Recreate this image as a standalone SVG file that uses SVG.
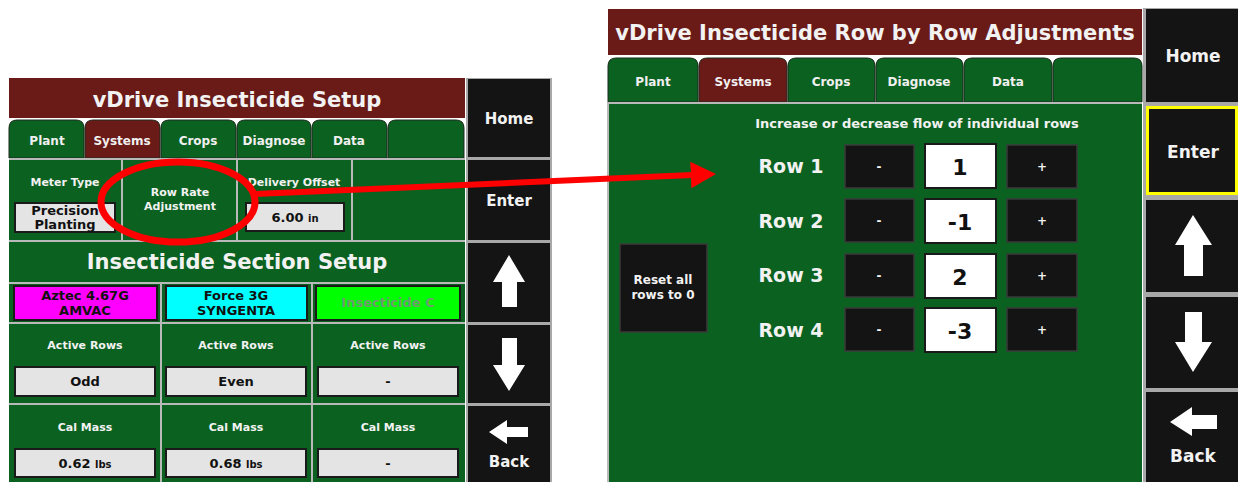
<svg xmlns="http://www.w3.org/2000/svg" width="1238" height="482" viewBox="0 0 1238 482">
<style>
text{font-family:"DejaVu Sans","Liberation Sans",sans-serif;font-weight:bold;text-anchor:middle}
.title{fill:#6a1a17}
.green{fill:#0b6120}
.tab{fill:#0b6120;stroke:#1c2a1c;stroke-width:1}
.tabsel{fill:#6a1a17;stroke:#1c2a1c;stroke-width:1}
.tt{fill:#f0f0f0;font-size:12px}
.wt{fill:#f2f2f2}
.btn{fill:#141414}
.box{fill:#e4e4e4;stroke:#1a1a1a;stroke-width:2}
.bt{fill:#111;font-size:13px}
.kb{fill:#141414;stroke:#3a3a3a;stroke-width:1.5}
.vb{fill:#fff;stroke:#1a1a1a;stroke-width:2}
.arr{fill:#fff}
.red{stroke:#ff0000;fill:none}
</style>
<defs>
<marker id="ah" markerWidth="4.2" markerHeight="4.4" refX="0.2" refY="2.2" orient="auto" markerUnits="strokeWidth">
<path d="M0,0 L4.2,2.2 L0,4.4 Z" fill="#ff0000"/>
</marker>
</defs>
<rect width="1238" height="482" fill="#fff"/>

<!-- LEFT SCREEN -->
<g id="left-title">
<rect class="title" x="9" y="78" width="456" height="40"/>
<text class="wt" x="237" y="107" font-size="21">vDrive Insecticide Setup</text>
</g>
<g id="left-tabs">
<path class="tab" d="M9,158V128Q9,120 17,120H76Q84,120 84,128V158Z"/>
<path class="tabsel" d="M85,158V128Q85,120 93,120H152Q160,120 160,128V158Z"/>
<path class="tab" d="M161,158V128Q161,120 169,120H228Q236,120 236,128V158Z"/>
<path class="tab" d="M237,158V128Q237,120 245,120H303Q311,120 311,128V158Z"/>
<path class="tab" d="M312,158V128Q312,120 320,120H379Q387,120 387,128V158Z"/>
<path class="tab" d="M388,158V128Q388,120 396,120H456Q464,120 464,128V158Z"/>
<text class="tt" x="47" y="145">Plant</text>
<text class="tt" x="122" y="145">Systems</text>
<text class="tt" x="198" y="145">Crops</text>
<text class="tt" x="274" y="145">Diagnose</text>
<text class="tt" x="349" y="145">Data</text>
</g>
<rect x="9" y="158" width="456" height="324" fill="#b9b9b9"/>
<g id="meter-type">
<rect class="green" x="9" y="160" width="112" height="80"/>
<text class="wt" x="65" y="186" font-size="11">Meter Type</text>
<rect class="box" x="15" y="203" width="100" height="29"/>
<text class="bt" x="65" y="215">Precision</text>
<text class="bt" x="65" y="229">Planting</text>
</g>
<g id="row-rate">
<rect class="green" x="123" y="160" width="113" height="80"/>
<text class="wt" x="180" y="196" font-size="11">Row Rate</text>
<text class="wt" x="180" y="210" font-size="11">Adjustment</text>
</g>
<g id="delivery-offset">
<rect class="green" x="238" y="160" width="113" height="80"/>
<text class="wt" x="294" y="186" font-size="11">Delivery Offset</text>
<rect class="box" x="246" y="203" width="98" height="28"/>
<text class="bt" x="295" y="222" font-size="12">6.00 <tspan font-size="10">in</tspan></text>
</g>
<g id="blank-cell"><rect class="green" x="353" y="160" width="112" height="80"/></g>
<g id="section-header">
<rect class="green" x="9" y="242" width="456" height="40"/>
<text class="wt" x="237" y="269" font-size="21">Insecticide Section Setup</text>
</g>
<g id="product-a">
<rect class="green" x="9" y="284" width="151" height="38"/>
<rect x="14" y="286" width="143" height="34" fill="#ff00ff" stroke="#1a1a1a" stroke-width="2"/>
<text class="bt" x="85" y="300">Aztec 4.67G</text>
<text class="bt" x="85" y="315">AMVAC</text>
</g>
<g id="product-b">
<rect class="green" x="162" y="284" width="149" height="38"/>
<rect x="166" y="286" width="141" height="34" fill="#00ffff" stroke="#1a1a1a" stroke-width="2"/>
<text class="bt" x="236" y="300">Force 3G</text>
<text class="bt" x="236" y="315">SYNGENTA</text>
</g>
<g id="product-c">
<rect class="green" x="313" y="284" width="152" height="38"/>
<rect x="316" y="286" width="144" height="34" fill="#00ff00" stroke="#1a1a1a" stroke-width="2"/>
<text x="388" y="307" font-size="13" fill="#6f9a6f">Insecticide C</text>
</g>
<g id="active-rows">
<rect class="green" x="9" y="324" width="151" height="79"/>
<rect class="green" x="162" y="324" width="149" height="79"/>
<rect class="green" x="313" y="324" width="152" height="79"/>
<text class="wt" x="85" y="349" font-size="11">Active Rows</text>
<text class="wt" x="236" y="349" font-size="11">Active Rows</text>
<text class="wt" x="388" y="349" font-size="11">Active Rows</text>
<rect class="box" x="15" y="367" width="140" height="29"/>
<rect class="box" x="166" y="367" width="140" height="29"/>
<rect class="box" x="318" y="367" width="140" height="29"/>
<text class="bt" x="85" y="386">Odd</text>
<text class="bt" x="236" y="386">Even</text>
<text class="bt" x="388" y="386">-</text>
</g>
<g id="cal-mass">
<rect class="green" x="9" y="405" width="151" height="77"/>
<rect class="green" x="162" y="405" width="149" height="77"/>
<rect class="green" x="313" y="405" width="152" height="77"/>
<text class="wt" x="85" y="431" font-size="11">Cal Mass</text>
<text class="wt" x="236" y="431" font-size="11">Cal Mass</text>
<text class="wt" x="388" y="431" font-size="11">Cal Mass</text>
<rect class="box" x="15" y="449" width="140" height="28"/>
<rect class="box" x="166" y="449" width="140" height="28"/>
<rect class="box" x="318" y="449" width="140" height="28"/>
<text class="bt" x="85" y="468" font-size="12">0.62 <tspan font-size="10">lbs</tspan></text>
<text class="bt" x="236" y="468" font-size="12">0.68 <tspan font-size="10">lbs</tspan></text>
<text class="bt" x="388" y="468">-</text>
</g>
<rect x="466" y="78" width="86" height="404" fill="#a8a8a8"/>
<g id="left-home">
<rect class="btn" x="468" y="79" width="82" height="78"/>
<text class="wt" x="509" y="124" font-size="15">Home</text>
</g>
<g id="left-enter">
<rect class="btn" x="468" y="160" width="82" height="80"/>
<text class="wt" x="509" y="206" font-size="15">Enter</text>
</g>
<g id="left-up">
<rect class="btn" x="468" y="243" width="82" height="79"/>
<path class="arr" d="M509,255L525,282H517V307H502V282H493Z"/>
</g>
<g id="left-down">
<rect class="btn" x="468" y="325" width="82" height="78"/>
<path class="arr" d="M502,338H517V365H525L509,391L493,365H502Z"/>
</g>
<g id="left-back">
<rect class="btn" x="468" y="406" width="82" height="76"/>
<path class="arr" d="M489,432L507,420V427H528V437H507V444Z"/>
<text class="wt" x="509" y="467" font-size="15">Back</text>
</g>

<!-- RIGHT SCREEN -->
<g id="right-title">
<rect class="title" x="608" y="9" width="534" height="46"/>
<text class="wt" x="875" y="40" font-size="21">vDrive Insecticide Row by Row Adjustments</text>
</g>
<g id="right-tabs">
<path class="tab" d="M608,102V66Q608,58 616,58H690Q698,58 698,66V102Z"/>
<path class="tabsel" d="M699,102V66Q699,58 707,58H779Q787,58 787,66V102Z"/>
<path class="tab" d="M788,102V66Q788,58 796,58H867Q875,58 875,66V102Z"/>
<path class="tab" d="M876,102V66Q876,58 884,58H955Q963,58 963,66V102Z"/>
<path class="tab" d="M964,102V66Q964,58 972,58H1044Q1052,58 1052,66V102Z"/>
<path class="tab" d="M1053,102V66Q1053,58 1061,58H1134Q1142,58 1142,66V102Z"/>
<text class="tt" x="653" y="86" font-size="13">Plant</text>
<text class="tt" x="743" y="86" font-size="13">Systems</text>
<text class="tt" x="831" y="86" font-size="13">Crops</text>
<text class="tt" x="919" y="86" font-size="13">Diagnose</text>
<text class="tt" x="1008" y="86" font-size="13">Data</text>
</g>
<rect x="607" y="102" width="535" height="380" fill="#b9b9b9"/>
<g id="row-panel">
<rect class="green" x="609" y="104" width="533" height="378"/>
<text class="wt" x="917" y="128" font-size="13">Increase or decrease flow of individual rows</text>
</g>
<g id="reset">
<rect class="kb" x="620" y="244" width="87" height="88"/>
<text class="wt" x="663" y="284" font-size="12">Reset all</text>
<text class="wt" x="663" y="299" font-size="12">rows to 0</text>
</g>
<g id="row1">
<text class="wt" x="791" y="173" font-size="19">Row  1</text>
<rect class="kb" x="845" y="145" width="69" height="43"/>
<text class="wt" x="879" y="171" font-size="12">-</text>
<rect class="vb" x="925" y="144" width="71" height="44"/>
<text x="960" y="175" font-size="22" fill="#111">1</text>
<rect class="kb" x="1007" y="145" width="70" height="43"/>
<text class="wt" x="1042" y="171" font-size="12">+</text>
</g>
<g id="row2">
<text class="wt" x="791" y="228" font-size="19">Row  2</text>
<rect class="kb" x="845" y="199" width="69" height="43"/>
<text class="wt" x="879" y="225" font-size="12">-</text>
<rect class="vb" x="925" y="199" width="71" height="44"/>
<text x="960" y="230" font-size="22" fill="#111">-1</text>
<rect class="kb" x="1007" y="199" width="70" height="43"/>
<text class="wt" x="1042" y="225" font-size="12">+</text>
</g>
<g id="row3">
<text class="wt" x="791" y="282" font-size="19">Row  3</text>
<rect class="kb" x="845" y="254" width="69" height="43"/>
<text class="wt" x="879" y="280" font-size="12">-</text>
<rect class="vb" x="925" y="254" width="71" height="44"/>
<text x="960" y="285" font-size="22" fill="#111">2</text>
<rect class="kb" x="1007" y="254" width="70" height="43"/>
<text class="wt" x="1042" y="280" font-size="12">+</text>
</g>
<g id="row4">
<text class="wt" x="791" y="337" font-size="19">Row  4</text>
<rect class="kb" x="845" y="308" width="69" height="43"/>
<text class="wt" x="879" y="334" font-size="12">-</text>
<rect class="vb" x="925" y="308" width="71" height="44"/>
<text x="960" y="339" font-size="22" fill="#111">-3</text>
<rect class="kb" x="1007" y="308" width="70" height="43"/>
<text class="wt" x="1042" y="334" font-size="12">+</text>
</g>
<rect x="1143" y="8" width="95" height="474" fill="#a8a8a8"/>
<g id="right-home">
<rect class="btn" x="1146" y="9" width="92" height="93"/>
<text class="wt" x="1193" y="62" font-size="17">Home</text>
</g>
<g id="right-enter">
<rect class="btn" x="1146" y="106" width="92" height="89"/>
<rect x="1147.5" y="107.5" width="89" height="86" fill="none" stroke="#ffff00" stroke-width="3"/>
<text class="wt" x="1193" y="158" font-size="17">Enter</text>
</g>
<g id="right-up">
<rect class="btn" x="1146" y="200" width="92" height="92"/>
<path class="arr" d="M1193,215L1212,245H1203V276H1184V245H1175Z"/>
</g>
<g id="right-down">
<rect class="btn" x="1146" y="297" width="92" height="91"/>
<path class="arr" d="M1185,312H1202V342H1212L1193,372L1175,342H1185Z"/>
</g>
<g id="right-back">
<rect class="btn" x="1146" y="392" width="92" height="90"/>
<path class="arr" d="M1170,422L1192,407V415H1217V429H1192V436Z"/>
<text class="wt" x="1193" y="462" font-size="17">Back</text>
</g>

<!-- ANNOTATION -->
<g id="connectors">
<ellipse class="red" cx="178" cy="202" rx="77" ry="40" stroke-width="7"/>
<line class="red" x1="255" y1="194" x2="692" y2="175" stroke-width="6" marker-end="url(#ah)"/>
</g>
</svg>
